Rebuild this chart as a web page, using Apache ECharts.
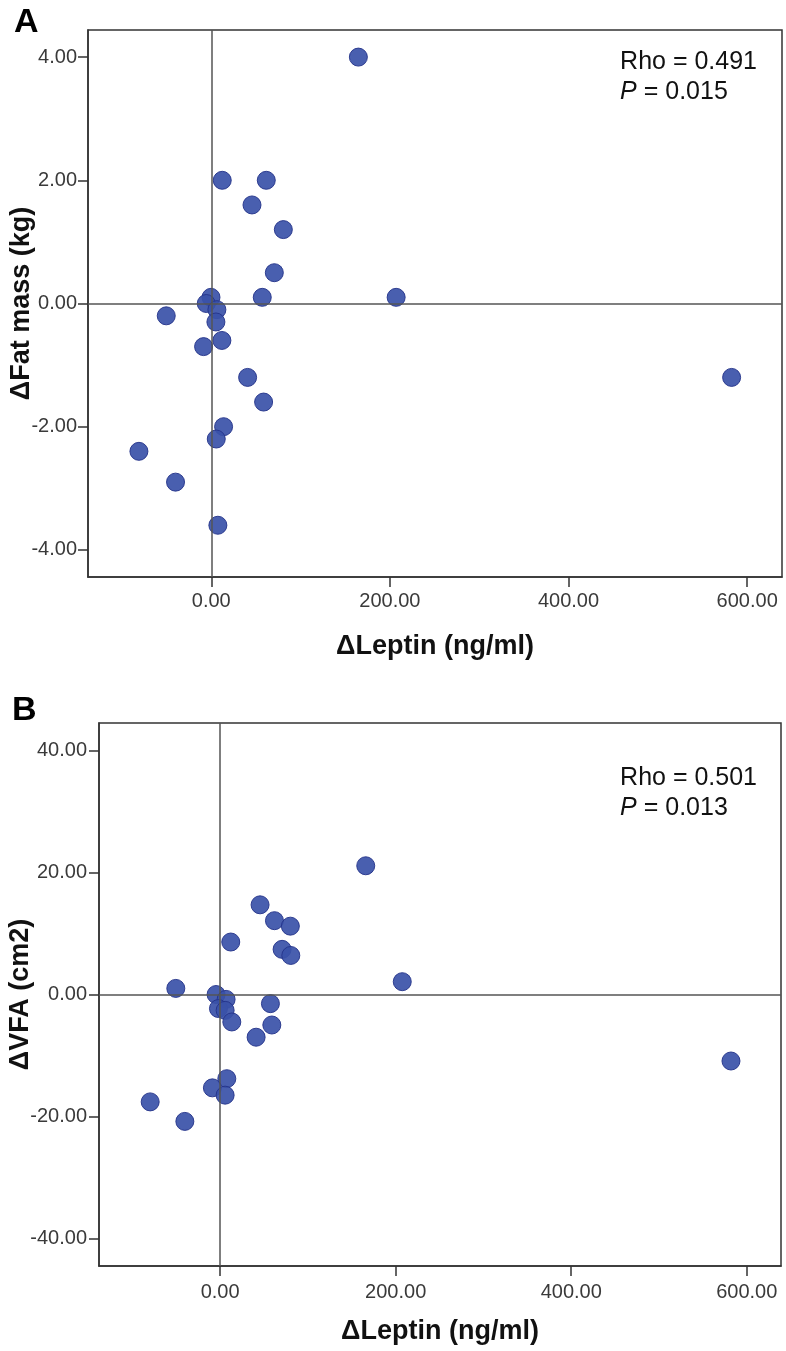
<!DOCTYPE html>
<html>
<head>
<meta charset="utf-8">
<script src="https://cdn.jsdelivr.net/npm/echarts@6.0.0/dist/echarts.min.js"></script>
<style>
  html, body { margin: 0; padding: 0; background: #fff; }
  #chart { width: 786px; height: 1351px; }
</style>
</head>
<body>
<div id="chart"></div>
<script type="text/javascript">
// 数据：两个面板共用同一 x 轴刻度
const xTicks = [0, 200, 400, 600]
const yTicksA = [-4, -2, 0, 2, 4]
const yTicksB = [-40, -20, 0, 20, 40]

// A：ΔLeptin vs ΔFat mass
const leptinA = [164.7, 12.3, 61.6, 45.6, 80.7, 70.6, 57.1, 207, -0.3, -5.6, 6.3, 5.2,
  -50.4, 11.9, -8.6, 40.7, 58.6, 13.8, 5.6, -81, -40, 7.4, 582.6]
const fatMass = [4.0, 2.0, 2.0, 1.6, 1.2, 0.5, 0.1, 0.1, 0.1, 0.0, -0.1, -0.3,
  -0.2, -0.6, -0.7, -1.2, -1.6, -2.0, -2.2, -2.4, -2.9, -3.6, -1.2]

// B：ΔLeptin vs ΔVFA
const leptinB = [165.9, 45.5, 61.9, 80.0, 12.1, 70.6, 80.5, -50.5, 207.5, -4.6, 6.8, -1.9,
  5.7, 57.3, 13.3, 58.9, 41.0, 582, 7.6, -8.8, 5.7, -79.7, -40.2]
const vfa = [21.1, 14.7, 12.1, 11.2, 8.6, 7.4, 6.4, 1.0, 2.1, 0.0, -0.8, -2.3,
  -2.6, -1.5, -4.5, -5.0, -7.0, -10.9, -13.8, -15.3, -16.5, -17.6, -20.8]

const statsA = ['0.491', '0.015']
const statsB = ['0.501', '0.013']

const FONT = 'Liberation Sans, Arial, sans-serif'
const pairs = (xs, ys) => xs.map((x, i) => [x, ys[i]])

function valueAxis(gridIndex, min, max, ticks, name, nameGap, margin) {
    return {
        type: 'value',
        gridIndex: gridIndex,
        min: min,
        max: max,
        name: name,
        nameLocation: 'middle',
        nameGap: nameGap,
        nameMoveOverlap: false,
        nameTextStyle: { fontFamily: FONT, fontSize: 27, fontWeight: 'bold', color: '#111' },
        axisLine: { show: true, onZero: false, lineStyle: { color: '#333', width: 1.5 } },
        axisTick: { show: true, length: 10, customValues: ticks, lineStyle: { color: '#333', width: 1.5 } },
        axisLabel: {
            customValues: ticks,
            margin: margin,
            fontFamily: FONT,
            fontSize: 20,
            color: '#3a3a3a',
            formatter: v => v.toFixed(2)
        },
        splitLine: { show: false }
    }
}

function scatter(idx, data) {
    return {
        type: 'scatter',
        xAxisIndex: idx,
        yAxisIndex: idx,
        symbolSize: 18,
        data: data,
        itemStyle: { color: '#3a51a8', opacity: 0.92, borderColor: '#24338a', borderWidth: 1 },
        markLine: {
            silent: true,
            symbol: ['none', 'none'],
            label: { show: false },
            lineStyle: { color: '#555', width: 1.5, type: 'solid' },
            data: [{ xAxis: 0 }, { yAxis: 0 }]
        }
    }
}

function statText(top, stats) {
    return {
        type: 'text',
        right: 29,
        top: top,
        style: {
            text: 'Rho = ' + stats[0] + '\n{i|P} = ' + stats[1],
            align: 'right',
            font: '25px ' + FONT,
            lineHeight: 30,
            fill: '#111',
            rich: { i: { fontStyle: 'italic', fontSize: 25, fontFamily: FONT, fill: '#111' } }
        }
    }
}

var chart = echarts.init(document.getElementById('chart'))
var option = {
    animation: false,
    backgroundColor: '#fff',
    grid: [
        { left: 88, top: 30, right: 4, height: 547, show: true, borderColor: '#333', borderWidth: 1.5,
          containLabel: false, outerBoundsMode: 'none' },
        { left: 99, top: 723, right: 5, height: 543, show: true, borderColor: '#333', borderWidth: 1.5,
          containLabel: false, outerBoundsMode: 'none' }
    ],
    xAxis: [
        valueAxis(0, -138, 639, xTicks, 'ΔLeptin (ng/ml)', 56, 14),
        valueAxis(1, -138, 639, xTicks, 'ΔLeptin (ng/ml)', 52, 16)
    ],
    yAxis: [
        valueAxis(0, -4.44, 4.44, yTicksA, 'ΔFat mass (kg)', 53, 11),
        valueAxis(1, -44.5, 44.5, yTicksB, 'ΔVFA (cm2)', 65, 12)
    ],
    series: [
        scatter(0, pairs(leptinA, fatMass)),
        scatter(1, pairs(leptinB, vfa))
    ],
    graphic: [
        { type: 'text', left: 14, top: 6, style: { text: 'A', font: 'bold 34px ' + FONT, fill: '#000' } },
        { type: 'text', left: 12, top: 694, style: { text: 'B', font: 'bold 34px ' + FONT, fill: '#000' } },
        statText(47, statsA),
        statText(763, statsB)
    ]
}
chart.setOption(option)
window.addEventListener('resize', () => {
    chart.resize()
})
</script>
</body>
</html>
